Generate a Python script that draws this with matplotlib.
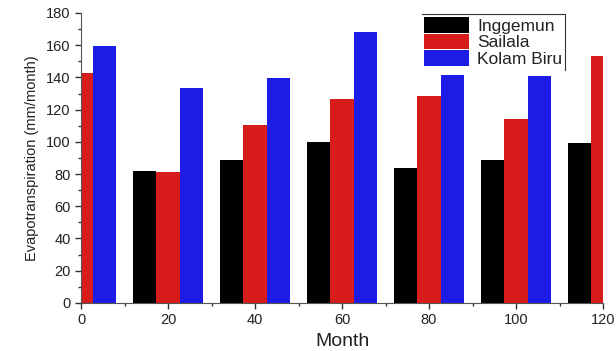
import numpy as np
import matplotlib
matplotlib.use("Agg")
import matplotlib.pyplot as plt

plt.rcParams['font.family'] = ['Liberation Sans', 'DejaVu Sans']

# Monthly evapotranspiration (mm/month) for the three sites
months = [0, 20, 40, 60, 80, 100, 120]
inggemun = [np.nan, 82, 89, 100, 84, 88.6, 99]
sailala = [142.7, 81.5, 110.6, 126.5, 128.4, 114.3, 153.4]
kolam_biru = [159.3, 133.3, 139.6, 168, 141.4, 141, np.nan]

series = [("Inggemun", inggemun, "#000000"),
          ("Sailala", sailala, "#d81c1c"),
          ("Kolam Biru", kolam_biru, "#1c1ce6")]

fig = plt.figure(figsize=(6.16, 3.51), dpi=100)
ax = fig.add_axes([0.1315, 0.137, 0.8474, 0.826])

x = np.array(months, dtype=float)
w = 5.3
for k, (name, vals, col) in enumerate(series):
    ax.bar(x + (k - 1) * w, vals, width=w, color=col, label=name, linewidth=0)

ax.set_xlim(0, 120)
ax.set_ylim(0, 180)
ax.set_xticks(range(0, 121, 20))
ax.set_xticks(range(10, 120, 20), minor=True)
ax.set_yticks(range(0, 181, 20))
ax.set_yticks(range(10, 180, 20), minor=True)
ax.tick_params(axis='both', which='major', direction='out', length=4, width=1,
               labelsize=10.5, colors='#333333', labelcolor='#222222')
ax.tick_params(axis='both', which='minor', direction='out', length=2, width=1,
               colors='#333333')
for s in ['top', 'right']:
    ax.spines[s].set_visible(False)
for s in ['left', 'bottom']:
    ax.spines[s].set_color('#555555')

ax.set_xlabel("Month", fontsize=14, labelpad=4, color='#222222')
ax.set_ylabel("Evapotranspiration (mm/month)", fontsize=10.5, labelpad=5, color='#222222')

leg = ax.legend(loc='upper right', bbox_to_anchor=(0.927, 0.995), frameon=False,
                fontsize=12.5, handlelength=2.6, handleheight=1.0,
                handletextpad=0.45, labelspacing=0.0, borderpad=0.15,
                borderaxespad=0.0)
for t in leg.get_texts():
    t.set_color('#222222')

# open frame on the legend: top edge and right edge only
fig.canvas.draw()
bb = leg.get_window_extent().transformed(ax.transAxes.inverted())
ax.plot([bb.x0, bb.x1, bb.x1], [bb.y1, bb.y1, bb.y0], transform=ax.transAxes,
        color='#333333', lw=0.8, clip_on=False)

fig.savefig("out.png", dpi=100)
